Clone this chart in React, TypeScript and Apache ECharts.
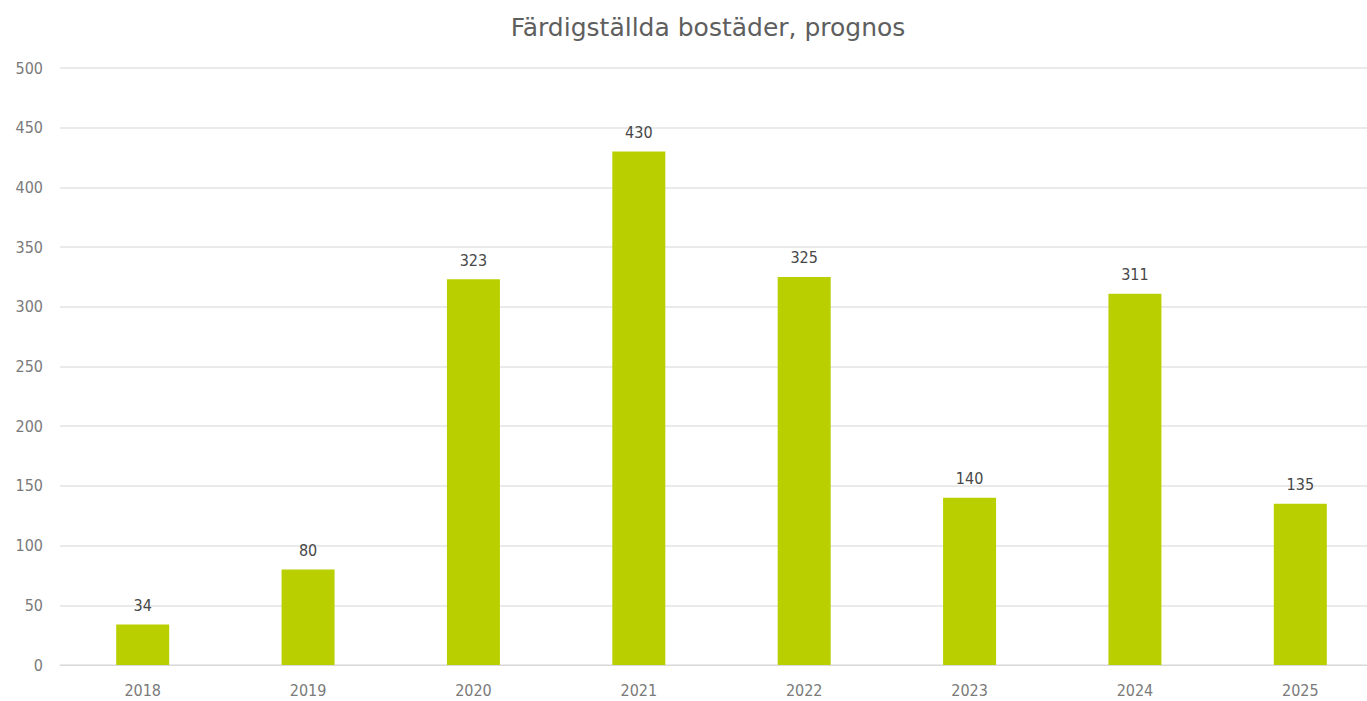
import React, { useEffect, useRef } from "react";
import * as echarts from "echarts";

const years = ["2018", "2019", "2020", "2021", "2022", "2023", "2024", "2025"];
const values = [34, 80, 323, 430, 325, 140, 311, 135];
const yTicks = { min: 0, max: 500, interval: 50 };
const title = "Färdigställda bostäder, prognos";

const FONT = "DejaVu Sans Condensed, DejaVu Sans";

export default function App() {
  const ref = useRef<HTMLDivElement>(null);
  useEffect(() => {
    if (!ref.current) return;
    const chart = echarts.init(ref.current, undefined, { renderer: "svg" });
    chart.setOption({
      animation: false,
      backgroundColor: "#ffffff",
      title: {
        text: title,
        left: 703,
        textAlign: "center",
        top: 10,
        textStyle: {
          fontFamily: "DejaVu Sans",
          fontSize: 25,
          fontWeight: "normal",
          color: "#5e5e5e",
        },
      },
      grid: { left: 60, right: 0, top: 68, bottom: 36, containLabel: false },
      xAxis: {
        type: "category",
        data: years,
        axisLine: { show: true, lineStyle: { color: "#d9d9d9", width: 1 } },
        axisTick: { show: false },
        axisLabel: {
          color: "#7a7a7a",
          fontSize: 16,
          fontFamily: FONT,
          margin: 17,
        },
      },
      yAxis: {
        type: "value",
        min: yTicks.min,
        max: yTicks.max,
        interval: yTicks.interval,
        axisLine: { show: false },
        axisTick: { show: false },
        splitLine: { lineStyle: { color: "#e3e3e3", width: 1.5 } },
        axisLabel: {
          color: "#7a7a7a",
          fontSize: 16,
          fontFamily: FONT,
          margin: 17,
        },
      },
      series: [
        {
          type: "bar",
          data: values,
          barWidth: 53,
          itemStyle: { color: "#bacf00" },
          label: {
            show: true,
            position: "top",
            distance: 11,
            color: "#474747",
            fontSize: 16,
            fontFamily: FONT,
          },
        },
      ],
    });
    return () => chart.dispose();
  }, []);
  return (
    <div
      style={{
        position: "absolute",
        left: 0,
        top: 0,
        width: 1367,
        height: 701,
        overflow: "hidden",
        background: "#ffffff",
      }}
    >
      <div ref={ref} style={{ width: 1383, height: 701 }} />
    </div>
  );
}
